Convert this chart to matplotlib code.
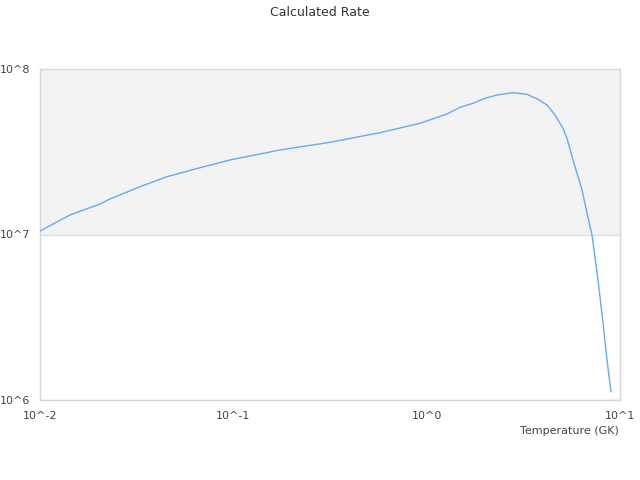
import numpy as np
import matplotlib
matplotlib.use('Agg')
import matplotlib.pyplot as plt
from matplotlib.ticker import FixedLocator, NullLocator

# temperature (GK) and calculated rate
temperature = [0.01, 0.01429, 0.02043, 0.02302, 0.03291, 0.04539, 0.06725,
               0.09612, 0.1743, 0.3162, 0.5736, 0.9237, 1.274, 1.488, 1.737,
               2.003, 2.311, 2.797, 3.304, 3.767, 4.193, 4.611, 5.073, 5.32,
               5.713, 6.361, 6.751, 7.165, 7.696, 8.17, 8.566, 8.983]
rate = [1.050e7, 1.312e7, 1.529e7, 1.639e7, 1.945e7, 2.235e7, 2.533e7,
        2.82e7, 3.24e7, 3.607e7, 4.123e7, 4.698e7, 5.348e7, 5.87e7, 6.204e7,
        6.653e7, 6.965e7, 7.192e7, 7.033e7, 6.561e7, 6.06e7, 5.275e7, 4.383e7,
        3.813e7, 2.82e7, 1.858e7, 1.349e7, 9.93e6, 5.31e6, 2.92e6, 1.745e6,
        1.123e6]

x_ticks = [0.01, 0.1, 1, 10]
x_ticklabels = ['10^-2', '10^-1', '10^0', '10^1']
y_ticks = [1e6, 1e7, 1e8]
y_ticklabels = ['10^6', '10^7', '10^8']

fig = plt.figure(figsize=(6.4, 4.8), dpi=100)
ax = fig.add_axes([40/640, 1 - 400/480, 580/640, 331/480])

ax.set_xscale('log')
ax.set_yscale('log')
ax.set_xlim(0.01, 10)
ax.set_ylim(1e6, 1e8)

# shaded band between 10^7 and 10^8
ax.axhspan(1e7, 1e8, color='#f3f3f3', zorder=0, linewidth=0)
for yv in y_ticks:
    ax.axhline(yv, color='#e0e0e0', linewidth=1, zorder=1)

ax.plot(temperature, rate, color='#66aaf2', linewidth=1, zorder=3)

ax.xaxis.set_major_locator(FixedLocator(x_ticks))
ax.yaxis.set_major_locator(FixedLocator(y_ticks))
ax.xaxis.set_minor_locator(NullLocator())
ax.yaxis.set_minor_locator(NullLocator())
ax.set_xticklabels(x_ticklabels)
ax.set_yticklabels(y_ticklabels)
ax.tick_params(axis='both', length=0, labelsize=8, labelcolor='#444444')
ax.tick_params(axis='x', pad=8)
ax.tick_params(axis='y', pad=7)

for sp in ax.spines.values():
    sp.set_color('#d6d6d6')
    sp.set_linewidth(1)

fig.text(0.5, 1 - 12/480, 'Calculated Rate', ha='center', va='center',
         fontsize=9, color='#333333')
fig.text(619/640, 1 - 431/480, 'Temperature (GK)', ha='right', va='center',
         fontsize=8, color='#444444')

fig.savefig('out.png', dpi=100)
